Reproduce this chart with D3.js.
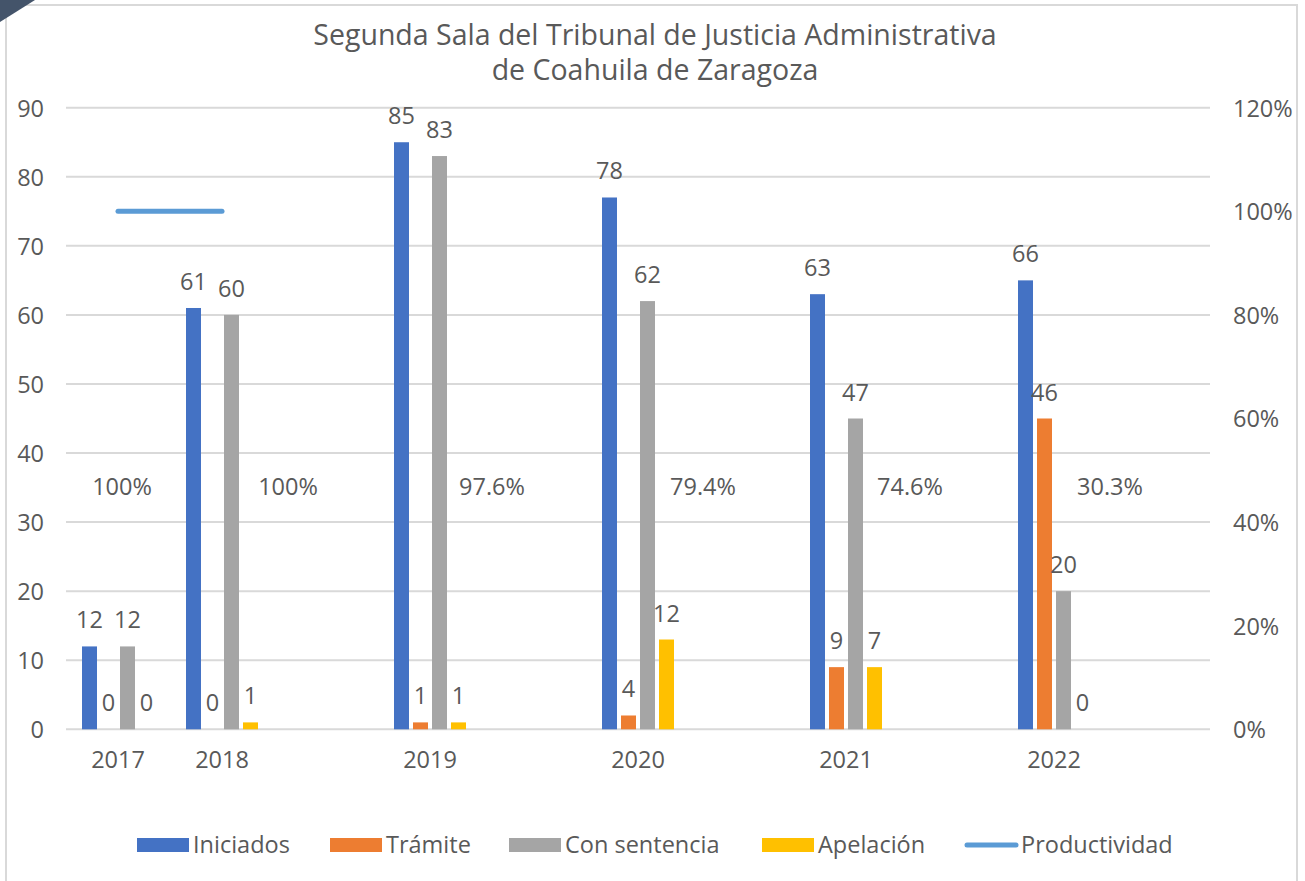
<!DOCTYPE html>
<html>
<head>
<meta charset="utf-8">
<script src="https://cdn.jsdelivr.net/npm/d3@7"></script>
<style>
  body { margin: 0; background: #fff; }
  text { font-family: "Open Sans", "Noto Sans", sans-serif; fill: #595959; }
</style>
</head>
<body>
<div id="chart"></div>
<script>
// categories (empty slots keep the uneven spacing of the original axis)
var slots = ["2017", "2018", "s2", "2019", "s4", "2020", "s6", "2021", "s8", "2022", "s10"];
var years = ["2017", "2018", "2019", "2020", "2021", "2022"];
var seriesNames = ["Iniciados", "Trámite", "Con sentencia", "Apelación"];
var colors = ["#4472C4", "#ED7D31", "#A5A5A5", "#FFC000"];
var lineColor = "#5B9BD5";

// bar heights as drawn
var iniciados = [12, 61, 85, 77, 63, 65];
var tramite = [0, 0, 1, 2, 9, 45];
var conSentencia = [12, 60, 83, 62, 45, 20];
var apelacion = [0, 1, 1, 13, 9, 0];

// data labels as printed on the chart
var iniciadosLbl = ["12", "61", "85", "78", "63", "66"];
var tramiteLbl = ["0", "0", "1", "4", "9", "46"];
var conSentenciaLbl = ["12", "60", "83", "62", "47", "20"];
var apelacionLbl = ["0", "1", "1", "12", "7", "0"];

// productividad (secondary axis)
var productividad = [1, 1, null, null, null, null];
var productividadLbl = ["100%", "100%", "97.6%", "79.4%", "74.6%", "30.3%"];

var leftTicks = [0, 10, 20, 30, 40, 50, 60, 70, 80, 90];
var rightTicks = [0, 0.2, 0.4, 0.6, 0.8, 1.0, 1.2];

var svgWidth = 1305;
var svgHeight = 881;
var fontSize = "23.5px";

var svg = d3.select("#chart")
  .append("svg")
  .attr("width", svgWidth)
  .attr("height", svgHeight);

// frame
svg.append("rect")
  .attr("x", 6).attr("y", 5)
  .attr("width", 1291).attr("height", 890)
  .attr("fill", "#fff")
  .attr("stroke", "#d9d9d9")
  .attr("stroke-width", 2);

svg.append("path")
  .attr("d", "M0,0 L35,0 L0,22 Z")
  .attr("fill", "#44546A");

// title
var title = svg.append("text")
  .attr("text-anchor", "middle")
  .style("font-size", "28.5px");
title.append("tspan").attr("x", 655).attr("y", 45)
  .text("Segunda Sala del Tribunal de Justicia Administrativa");
title.append("tspan").attr("x", 655).attr("y", 80)
  .text("de Coahuila de Zaragoza");

var plotLeft = 66, plotRight = 1210, plotTop = 107.7, plotBottom = 729.3;

var x = d3.scaleBand()
  .domain(slots)
  .range([plotLeft, plotRight]);

var y = d3.scaleLinear()
  .domain([0, 90])
  .range([plotBottom, plotTop]);

var y2 = d3.scaleLinear()
  .domain([0, 1.2])
  .range([plotBottom, plotTop]);

var barW = 15, barStep = 19;

// gridlines
svg.append("g")
  .selectAll("line")
  .data(leftTicks)
  .enter()
  .append("line")
  .attr("x1", plotLeft).attr("x2", plotRight)
  .attr("y1", d => y(d)).attr("y2", d => y(d))
  .attr("stroke", "#d9d9d9")
  .attr("stroke-width", 2);

function styleTicks(g) {
  g.select(".domain").remove();
  g.selectAll("text")
    .style("font-size", fontSize)
    .style("font-family", "'Open Sans', 'Noto Sans', sans-serif")
    .attr("fill", "#595959");
}

// left axis
var leftAxis = d3.axisLeft(y).tickValues(leftTicks).tickSize(0).tickPadding(0);
var gl = svg.append("g")
  .attr("transform", "translate(44,0)")
  .call(leftAxis);
styleTicks(gl);
gl.selectAll("text").attr("dy", "0.36em");

// right axis
var rightAxis = d3.axisRight(y2).tickValues(rightTicks).tickSize(0).tickPadding(0)
  .tickFormat(d3.format(".0%"));
var gr = svg.append("g")
  .attr("transform", "translate(1233,0)")
  .call(rightAxis);
styleTicks(gr);
gr.selectAll("text").attr("dy", "0.36em");

// x axis labels
var bottomAxis = d3.axisBottom(x).tickValues(years).tickSize(0).tickPadding(0);
var gb = svg.append("g")
  .attr("transform", "translate(0,768)")
  .call(bottomAxis);
styleTicks(gb);
gb.selectAll("text").attr("dy", "0");

// bars
var seriesValues = [iniciados, tramite, conSentencia, apelacion];
var seriesLabels = [iniciadosLbl, tramiteLbl, conSentenciaLbl, apelacionLbl];

function barX(year, s) {
  var c = x(year) + x.bandwidth() / 2;
  return c - (barStep * 4 - (barStep - barW)) / 2 + s * barStep;
}

seriesValues.forEach(function(vals, s) {
  var rows = years.map((yr, i) => ({ year: yr, v: vals[i], lbl: seriesLabels[s][i] }));

  svg.append("g")
    .selectAll("rect")
    .data(rows)
    .enter()
    .append("rect")
    .attr("x", d => barX(d.year, s))
    .attr("y", d => y(d.v))
    .attr("width", barW)
    .attr("height", d => y(0) - y(d.v))
    .attr("fill", colors[s]);

  svg.append("g")
    .selectAll("text")
    .data(rows)
    .enter()
    .append("text")
    .attr("x", d => barX(d.year, s) + barW / 2)
    .attr("y", d => y(d.v) - 18)
    .attr("text-anchor", "middle")
    .style("font-size", fontSize)
    .text(d => d.lbl);
});

// productividad line
var line = d3.line()
  .defined(d => d.v !== null)
  .x(d => x(d.year) + x.bandwidth() / 2)
  .y(d => y2(d.v));

svg.append("path")
  .datum(years.map((yr, i) => ({ year: yr, v: productividad[i] })))
  .attr("d", line)
  .attr("fill", "none")
  .attr("stroke", lineColor)
  .attr("stroke-width", 5)
  .attr("stroke-linecap", "round");

// productividad labels (placed by hand in the original, to the right of each group)
var pctDx = [4, 66, 62, 65, 64, 56];
svg.append("g")
  .selectAll("text")
  .data(productividadLbl)
  .enter()
  .append("text")
  .attr("x", (d, i) => x(years[i]) + x.bandwidth() / 2 + pctDx[i])
  .attr("y", 495)
  .attr("text-anchor", "middle")
  .style("font-size", fontSize)
  .text(d => d);

// legend
var legendItems = [
  { name: "Iniciados", x: 137, color: colors[0], type: "rect" },
  { name: "Trámite", x: 330, color: colors[1], type: "rect" },
  { name: "Con sentencia", x: 509, color: colors[2], type: "rect" },
  { name: "Apelación", x: 762, color: colors[3], type: "rect" },
  { name: "Productividad", x: 965, color: lineColor, type: "line" }
];

var legend = svg.append("g");
legendItems.forEach(function(item) {
  if (item.type === "rect") {
    legend.append("rect")
      .attr("x", item.x).attr("y", 838)
      .attr("width", 52).attr("height", 14)
      .attr("fill", item.color);
  } else {
    legend.append("line")
      .attr("x1", item.x + 2).attr("x2", item.x + 51)
      .attr("y1", 845).attr("y2", 845)
      .attr("stroke", item.color)
      .attr("stroke-width", 5)
      .attr("stroke-linecap", "round");
  }
  legend.append("text")
    .attr("x", item.x + 56)
    .attr("y", 853)
    .style("font-size", fontSize)
    .text(item.name);
});
</script>
</body>
</html>
